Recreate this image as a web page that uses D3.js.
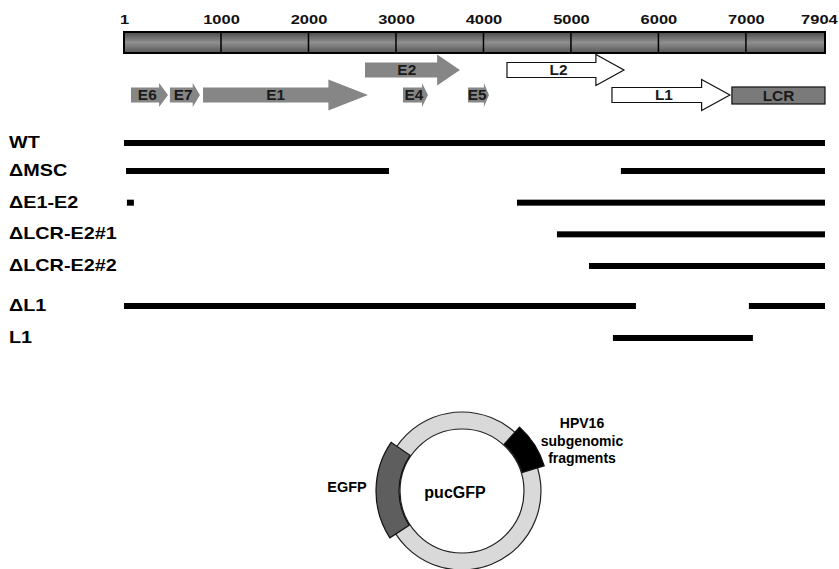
<!DOCTYPE html>
<html>
<head>
<meta charset="utf-8">
<script src="https://cdn.jsdelivr.net/npm/d3@7"></script>
<style>
  body { margin: 0; background: #fff; }
  text { font-family: "Liberation Sans", Arial, sans-serif; font-weight: bold; }
</style>
</head>
<body>
<div class="genome-map"></div>
<script>
  // genome coordinates (HPV16, 7904 bp)
  const genomeLength = 7904;
  const tickValues = [1, 1000, 2000, 3000, 4000, 5000, 6000, 7000, 7904];

  // ORFs as drawn in the figure
  const geneNames = ["E6", "E7", "E1", "E2", "E4", "E5", "L2", "L1"];
  const geneStart = [73, 474, 815, 2646, 3080, 3823, 4269, 5469];
  const geneEnd = [454, 783, 2680, 3731, 3366, 4063, 5606, 6817];
  const geneTrack = [1, 1, 1, 0, 1, 1, 0, 1];
  const geneLate = [false, false, false, false, false, false, true, true];
  const lcrRegion = [6840, 7904];

  // subgenomic fragments per construct
  const rowLabels = ["WT", "ΔMSC", "ΔE1-E2", "ΔLCR-E2#1", "ΔLCR-E2#2", "ΔL1", "L1"];
  const rowSegments = [
    [[1, 7904]],
    [[22, 2920], [5571, 7904]],
    [[31, 103], [4383, 7904]],
    [[4840, 7904]],
    [[5206, 7904]],
    [[1, 5743], [7034, 7904]],
    [[5480, 7080]]
  ];

  // pucGFP plasmid parts (degrees, clockwise from top)
  const plasmidParts = ["EGFP", "HPV16"];
  const plasmidStart = [237, 42];
  const plasmidEnd = [304.5, 73];

  const width = 839;
  const height = 569;

  const svg = d3.select(".genome-map")
    .append("svg")
    .attr("width", width)
    .attr("height", height);

  const x = d3.scaleLinear()
    .domain([1, 1000, genomeLength])
    .range([124, 221, 825]);

  const trackY = d3.scaleOrdinal().domain([0, 1]).range([70, 95]);
  const rowY = d3.scaleLinear().domain([0, 1, 4, 5, 6]).range([143, 171, 266, 306, 338]);

  // gradient for the genome bar
  const grad = svg.append("defs").append("linearGradient")
    .attr("id", "barGrad")
    .attr("x1", 0).attr("y1", 0).attr("x2", 0).attr("y2", 1);
  grad.append("stop").attr("offset", "0%").attr("stop-color", "#4a4a4a");
  grad.append("stop").attr("offset", "50%").attr("stop-color", "#909090");
  grad.append("stop").attr("offset", "100%").attr("stop-color", "#555");

  // tick labels (figure text is stretched horizontally)
  const axis = d3.axisTop(x)
    .tickValues(tickValues)
    .tickSize(0)
    .tickPadding(0)
    .tickFormat(d3.format("d"));

  const axisG = svg.append("g")
    .attr("transform", "translate(0,24)")
    .call(axis);
  axisG.select(".domain").remove();
  axisG.selectAll("text")
    .attr("font-size", "13.5px")
    .attr("font-family", "Liberation Sans, Arial, sans-serif")
    .attr("font-weight", "bold")
    .attr("fill", "#111")
    .attr("x", d => d === genomeLength ? -5 : 0)
    .attr("transform", "scale(1.22,1)");

  // genome bar
  svg.append("rect")
    .attr("x", x(1))
    .attr("y", 32)
    .attr("width", x(genomeLength) - x(1))
    .attr("height", 21)
    .attr("fill", "url(#barGrad)")
    .attr("stroke", "#000")
    .attr("stroke-width", 2);

  svg.selectAll(".divider")
    .data(tickValues.slice(1, -1))
    .enter()
    .append("line")
    .attr("class", "divider")
    .attr("x1", d => x(d)).attr("x2", d => x(d))
    .attr("y1", 32).attr("y2", 53)
    .attr("stroke", "#000")
    .attr("stroke-width", 1.5);

  // gene arrows
  const genes = geneNames.map((n, i) => ({
    name: n, start: geneStart[i], end: geneEnd[i], track: geneTrack[i], late: geneLate[i]
  }));

  const arrowPath = d => {
    const x0 = x(d.start), x1 = x(d.end), cy = trackY(d.track);
    const len = x1 - x0;
    const hl = len * 0.24;
    const bh = 7.5;
    const hh = len > 60 ? 15.5 : 12;
    return `M${x0},${cy - bh} L${x1 - hl},${cy - bh} L${x1 - hl},${cy - hh} L${x1},${cy} ` +
      `L${x1 - hl},${cy + hh} L${x1 - hl},${cy + bh} L${x0},${cy + bh} Z`;
  };

  svg.selectAll(".gene")
    .data(genes)
    .enter()
    .append("path")
    .attr("class", "gene")
    .attr("d", arrowPath)
    .attr("fill", d => d.late ? "#fff" : "#868686")
    .attr("stroke", d => d.late ? "#111" : "none")
    .attr("stroke-width", 1.2);

  svg.selectAll(".gene-label")
    .data(genes)
    .enter()
    .append("text")
    .attr("class", "gene-label")
    .attr("transform", d => {
      const x0 = x(d.start), x1 = x(d.end);
      const cx = (x0 + x1 - (x1 - x0) * 0.12) / 2;
      return `translate(${cx},${trackY(d.track) + 5}) scale(1.1,1)`;
    })
    .attr("text-anchor", "middle")
    .attr("font-size", "14px")
    .attr("fill", "#1a1a1a")
    .text(d => d.name);

  // LCR
  svg.append("rect")
    .attr("x", x(lcrRegion[0]))
    .attr("y", trackY(1) - 8)
    .attr("width", x(lcrRegion[1]) - x(lcrRegion[0]))
    .attr("height", 17)
    .attr("fill", "#7a7a7a")
    .attr("stroke", "#111")
    .attr("stroke-width", 1.2);
  svg.append("text")
    .attr("transform", `translate(${(x(lcrRegion[0]) + x(lcrRegion[1])) / 2},${trackY(1) + 5.5}) scale(1.1,1)`)
    .attr("text-anchor", "middle")
    .attr("font-size", "14px")
    .attr("fill", "#1a1a1a")
    .text("LCR");

  // construct rows
  const rows = svg.selectAll(".row")
    .data(rowLabels.map((l, i) => ({ label: l, segs: rowSegments[i], i: i })))
    .enter()
    .append("g")
    .attr("class", "row");

  rows.append("text")
    .attr("transform", d => `translate(9,${rowY(d.i) + 5}) scale(1.2,1)`)
    .attr("font-size", "16.5px")
    .attr("fill", "#000")
    .text(d => d.label);

  rows.selectAll("rect")
    .data(d => d.segs.map(s => ({ s: s, i: d.i })))
    .enter()
    .append("rect")
    .attr("x", d => x(d.s[0]))
    .attr("y", d => rowY(d.i) - 3)
    .attr("width", d => x(d.s[1]) - x(d.s[0]))
    .attr("height", 6)
    .attr("fill", "#000");

  // plasmid map
  const cx = 462, cy = 491;
  const plasmid = svg.append("g").attr("transform", `translate(${cx},${cy})`);

  plasmid.append("path")
    .attr("d", d3.arc().innerRadius(62).outerRadius(79).startAngle(0).endAngle(2 * Math.PI)())
    .attr("fill", "#d9d9d9")
    .attr("stroke", "#222")
    .attr("stroke-width", 1.2);

  const rad = Math.PI / 180;
  const partArc = d3.arc().innerRadius(63).outerRadius(86);
  plasmid.selectAll(".part")
    .data(plasmidParts)
    .enter()
    .append("path")
    .attr("class", "part")
    .attr("d", (d, i) => partArc({ startAngle: plasmidStart[i] * rad, endAngle: plasmidEnd[i] * rad }))
    .attr("fill", (d, i) => i === 0 ? "#5e5e5e" : "#000")
    .attr("stroke", "#111")
    .attr("stroke-width", 1.2);

  plasmid.append("text")
    .attr("x", -7).attr("y", 7)
    .attr("text-anchor", "middle")
    .attr("font-size", "16px")
    .text("pucGFP");

  svg.append("text")
    .attr("x", 347).attr("y", 492)
    .attr("text-anchor", "middle")
    .attr("font-size", "14.5px")
    .text("EGFP");

  svg.append("text")
    .attr("x", 582).attr("y", 428)
    .attr("text-anchor", "middle")
    .attr("font-size", "14px")
    .selectAll("tspan")
    .data(["HPV16", "subgenomic", "fragments"])
    .enter()
    .append("tspan")
    .attr("x", 582)
    .attr("dy", (d, i) => i === 0 ? 0 : 17.5)
    .text(d => d);
</script>
</body>
</html>
